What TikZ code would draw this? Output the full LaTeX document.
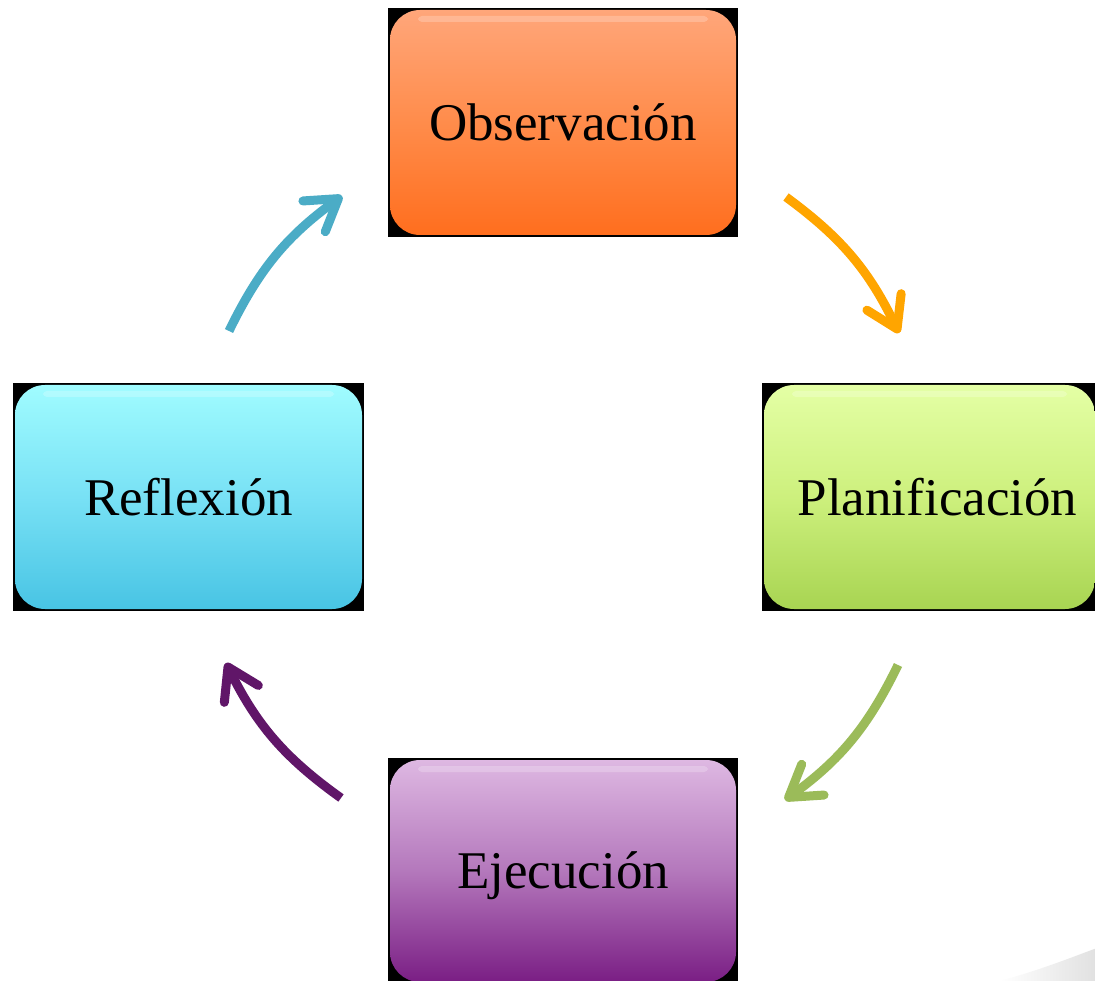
\documentclass[tikz,border=0pt]{standalone}
\usepackage{fontspec}
\setmainfont{Liberation Serif}
\usetikzlibrary{arrows.meta}
\definecolor{obsT}{RGB}{255,166,122}
\definecolor{obsM}{RGB}{255,140,75}
\definecolor{obsB}{RGB}{255,110,30}
\definecolor{plaT}{RGB}{228,255,165}
\definecolor{plaM}{RGB}{205,240,125}
\definecolor{plaB}{RGB}{168,212,82}
\definecolor{refT}{RGB}{160,252,255}
\definecolor{refM}{RGB}{120,225,245}
\definecolor{refB}{RGB}{72,196,228}
\definecolor{ejeT}{RGB}{222,184,226}
\definecolor{ejeM}{RGB}{180,120,188}
\definecolor{ejeB}{RGB}{122,30,132}
\definecolor{arOrange}{RGB}{255,165,0}
\definecolor{arGreen}{RGB}{155,187,89}
\definecolor{arPurple}{RGB}{96,22,104}
\definecolor{arBlue}{RGB}{75,172,198}
\begin{document}
\begin{tikzpicture}[x=1pt,y=1pt,
  bgbox/.style={fill=black, draw=none, inner sep=0pt, outer sep=0pt},
  card/.style={draw=none, rounded corners=30pt, inner sep=0pt, outer sep=0pt,
    font=\fontsize{53}{60}\selectfont, text=black},
  gloss/.style={fill=white, opacity=0.22, rounded corners=4pt},
  cyc/.style={line width=9pt, -{Straight Barb[length=30pt,width=38pt,round]}}]
\useasboundingbox (0,0) rectangle (1095,-981);
\fill[white] (0,0) rectangle (1095,-981);
% faint swoosh bottom right
\shade[left color=white, right color=black!12] (1000,-981) .. controls (1040,-970) and (1070,-958) .. (1097,-948) -- (1097,-983) -- cycle;

% Observación
\node[bgbox, minimum width=350pt, minimum height=229pt] (obsbg) at (563,-122.5) {};
\node[card, minimum width=346pt, minimum height=225pt,
  top color=obsT, bottom color=obsB, middle color=obsM] (obs) at (obsbg) {Observación};
\fill[gloss] ([xshift=28pt,yshift=-6pt]obs.north west) rectangle ([xshift=-28pt,yshift=-12pt]obs.north east);

% Planificación
\node[bgbox, minimum width=335pt, minimum height=228pt] (plabg) at (929.5,-497) {};
\node[card, minimum width=331pt, minimum height=224pt, text width=331pt, align=center,
  top color=plaT, bottom color=plaB, middle color=plaM] (pla) at (plabg) {\hspace*{16pt}Planificación};
\fill[gloss] ([xshift=28pt,yshift=-6pt]pla.north west) rectangle ([xshift=-28pt,yshift=-12pt]pla.north east);

% Reflexión
\node[bgbox, minimum width=351pt, minimum height=228pt] (refbg) at (188.5,-497) {};
\node[card, minimum width=347pt, minimum height=224pt,
  top color=refT, bottom color=refB, middle color=refM] (ref) at (refbg) {Reflexión};
\fill[gloss] ([xshift=28pt,yshift=-6pt]ref.north west) rectangle ([xshift=-28pt,yshift=-12pt]ref.north east);

% Ejecución
\node[bgbox, minimum width=350pt, minimum height=226pt] (ejebg) at (563,-871) {};
\node[card, minimum width=346pt, minimum height=222pt,
  top color=ejeT, bottom color=ejeB, middle color=ejeM] (eje) at (ejebg) {\raisebox{-5pt}[\height][\depth]{Ejecución}};
\fill[gloss] ([xshift=28pt,yshift=-6pt]eje.north west) rectangle ([xshift=-28pt,yshift=-12pt]eje.north east);

% arrows
\coordinate (a1s) at (786,-197);
\coordinate (a1e) at (899,-333);
\coordinate (a2s) at (898,-665);
\coordinate (a2e) at (785,-800);
\coordinate (a3s) at (341,-798);
\coordinate (a3e) at (226,-663);
\coordinate (a4s) at (229,-331);
\coordinate (a4e) at (342,-196);
\draw[cyc, arOrange] (a1s) to[bend left=14] (a1e);
\draw[cyc, arGreen] (a2s) to[bend left=14] (a2e);
\draw[cyc, arPurple] (a3s) to[bend left=14] (a3e);
\draw[cyc, arBlue] (a4s) to[bend left=14] (a4e);
\end{tikzpicture}
\end{document}
